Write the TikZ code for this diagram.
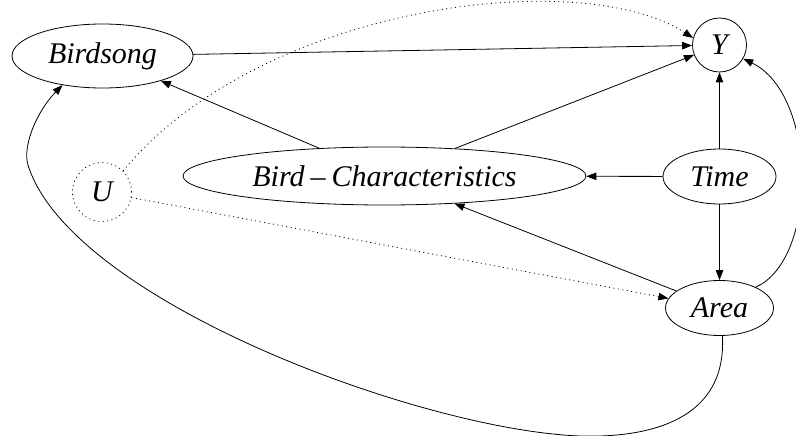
\documentclass[tikz,border=0pt]{standalone}
\usepackage{fontspec}
\setmainfont{Liberation Serif}
\usetikzlibrary{shapes.geometric,arrows.meta}
\begin{document}
\begin{tikzpicture}[x=1pt,y=-1pt,
  every node/.style={font=\fontsize{30}{32}\selectfont\itshape, inner sep=0pt},
  var/.style={draw, ellipse, line width=0.8pt},
  cvar/.style={draw, circle, line width=0.8pt, minimum size=#1},
  edge/.style={line width=0.8pt, -{Triangle[length=10pt,width=7.5pt]}},
  hidden/.style={edge, dash pattern=on 1pt off 3.5pt}]
\useasboundingbox (0,0) rectangle (796,436);

% variables
\node[var, minimum width=181pt, minimum height=64pt] (bs) at (102.5,56) {Birdsong};
\node[cvar=54pt] (y) at (719.5,45) {Y};
\node[var, minimum width=403pt, minimum height=58pt] (bc) at (384.5,176) {Bird\hspace{0.2em}{\upshape –}\hspace{0.2em}Characteristics};
\node[cvar=59pt, dash pattern=on 1pt off 3.5pt] (u) at (102,192) {U};
\node[var, minimum width=113pt, minimum height=55pt] (time) at (719.5,176.5) {Time};
\node[var, minimum width=108pt, minimum height=55pt] (area) at (719.5,308) {Area};

% direct effects
\draw[edge] (bs) -- (y);
\draw[edge] (bc) -- (bs);
\draw[edge] (bc) -- (y);
\draw[edge] (time) -- (bc);
\draw[edge] (time) -- (y);
\draw[edge] (time) -- (area);
\draw[edge] (area) -- (bc);
\draw[edge] (area.30) .. controls (818,260) and (818,95) .. (y.-30);
\draw[edge] (area.-84) .. controls (727,420) and (650,438) .. (580,436)
  .. controls (420,430) and (70,300) .. (28,165)
  .. controls (22,145) and (38,110) .. (bs.-144);

% unobserved confounder
\draw[hidden] (u.45) .. controls (260,5) and (580,-35) .. (y.165);
\draw[hidden] (u) -- (area);
\end{tikzpicture}
\end{document}
